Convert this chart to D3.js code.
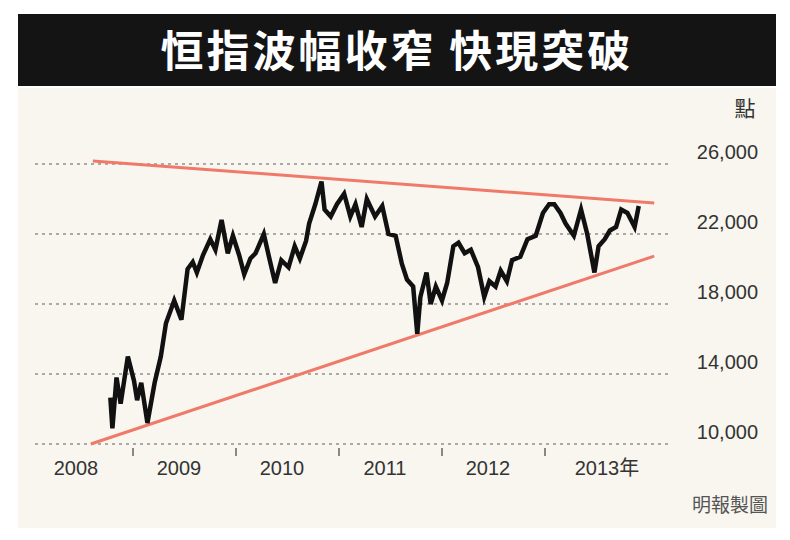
<!DOCTYPE html>
<html><head><meta charset="utf-8">
<script src="https://cdn.jsdelivr.net/npm/d3@7"></script>
<style>body{margin:0;background:#fff}</style>
</head><body>
<svg id="chart" width="790" height="540"></svg>
<script>
// Hang Seng index, approximate readings (decimal year, points)
const years = [2008.78,2008.80,2008.84,2008.88,2008.95,2009.01,2009.04,2009.08,2009.14,2009.21,2009.27,2009.32,2009.40,2009.47,2009.53,2009.58,2009.62,2009.68,2009.75,2009.80,2009.86,2009.92,2009.97,2010.03,2010.08,2010.14,2010.19,2010.27,2010.32,2010.38,2010.44,2010.51,2010.57,2010.62,2010.68,2010.71,2010.77,2010.83,2010.86,2010.92,2010.98,2011.05,2011.11,2011.16,2011.22,2011.27,2011.35,2011.42,2011.48,2011.55,2011.61,2011.66,2011.72,2011.76,2011.79,2011.85,2011.89,2011.94,2012.00,2012.05,2012.11,2012.16,2012.22,2012.28,2012.35,2012.41,2012.46,2012.52,2012.57,2012.63,2012.68,2012.76,2012.83,2012.91,2012.98,2013.04,2013.09,2013.15,2013.20,2013.28,2013.35,2013.41,2013.48,2013.52,2013.58,2013.63,2013.69,2013.74,2013.80,2013.87,2013.91];
const values = [12650,10900,13800,12300,15000,13600,12500,13500,11200,13500,15000,16900,18200,17100,20000,20400,19800,20800,21700,21100,22800,20900,21900,20800,19700,20600,20900,22000,20700,19200,20500,20100,21300,20600,21600,22600,23700,25000,23400,23000,23700,24300,23000,23700,22400,24000,23000,23600,22000,21900,20300,19400,19000,16300,18400,19800,18000,19000,18200,19200,21300,21500,20900,21100,20100,18400,19300,19000,19900,19300,20500,20700,21700,21900,23200,23700,23700,23200,22600,21900,23400,22000,19800,21300,21700,22200,22400,23400,23200,22400,23600];
const upperTrend = [[2008.61,26170],[2014.06,23770]];
const lowerTrend = [[2008.59,10000],[2014.06,20740]];
const yTicks = [10000,14000,18000,22000,26000];
const yearLabels = ["2008","2009","2010","2011","2012","2013年"];

const svg = d3.select("#chart");
svg.append("rect").attr("x",18).attr("y",88).attr("width",758).attr("height",440).attr("fill","#f8f6ef");
svg.append("rect").attr("x",18).attr("y",14).attr("width",758).attr("height",72).attr("fill","#141414");
svg.append("text").attr("x",397).attr("y",67).attr("text-anchor","middle")
  .attr("font-family","Noto Sans CJK TC").attr("font-weight","bold").attr("font-size",43)
  .attr("fill","#fff").attr("letter-spacing",3).text("恒指波幅收窄 快現突破");

const x = d3.scaleLinear().domain([2009,2013]).range([133,545]);
const y = d3.scaleLinear().domain([10000,26000]).range([444,164]);

// grid
svg.append("g").selectAll("line").data(yTicks).join("line")
  .attr("x1",35).attr("x2",668).attr("y1",d=>y(d)).attr("y2",d=>y(d))
  .attr("stroke","#aaa").attr("stroke-width",2).attr("stroke-dasharray","3,4");
svg.append("g").attr("font-family","Liberation Sans").attr("font-size",20).attr("fill","#333")
  .selectAll("text").data(yTicks).join("text")
  .attr("x",758).attr("y",d=>y(d)-5).attr("text-anchor","end").text(d3.format(","));
svg.append("text").attr("x",745).attr("y",116).attr("text-anchor","middle")
  .attr("font-family","Noto Sans CJK TC").attr("font-size",21).attr("fill","#333").text("點");

// year ticks and labels
svg.append("g").selectAll("line").data(d3.range(2009,2014)).join("line")
  .attr("x1",d=>x(d)).attr("x2",d=>x(d)).attr("y1",448).attr("y2",456)
  .attr("stroke","#888").attr("stroke-width",2);
svg.append("g").attr("font-family","Liberation Sans, Noto Sans CJK TC").attr("font-size",20).attr("fill","#333")
  .selectAll("text").data(yearLabels).join("text")
  .attr("x",(d,i)=>x(2008+i)+(i===5?62:46)).attr("y",475).attr("text-anchor","middle").text(d=>d);
svg.append("text").attr("x",768).attr("y",512).attr("text-anchor","end")
  .attr("font-family","Noto Sans CJK TC").attr("font-size",19).attr("fill","#555").text("明報製圖");

// trend lines
const line = d3.line().x(d=>x(d[0])).y(d=>y(d[1]));
[upperTrend,lowerTrend].forEach(t=>svg.append("path").attr("d",line(t))
  .attr("stroke","#f07a6a").attr("stroke-width",3).attr("fill","none"));

// index
svg.append("path").attr("d",line(years.map((d,i)=>[d,values[i]])))
  .attr("stroke","#111").attr("stroke-width",4.5).attr("fill","none").attr("stroke-linejoin","miter");
</script>
</body></html>
